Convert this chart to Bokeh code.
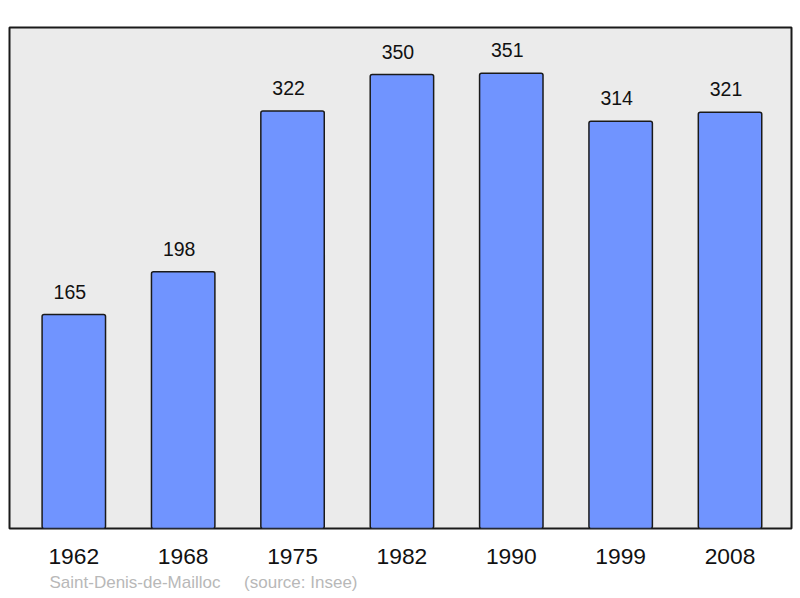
from bokeh.plotting import figure
from bokeh.models import ColumnDataSource, Range1d, FixedTicker, Title
from bokeh.core.properties import value
from bokeh.embed import file_html
from bokeh.resources import INLINE

years = ["1962", "1968", "1975", "1982", "1990", "1999", "2008"]
population = [165, 198, 322, 350, 351, 314, 321]
place = "Saint-Denis-de-Mailloc"
source_note = "(source: Insee)"

idx = list(range(len(years)))
src = ColumnDataSource(dict(x=idx, top=population, lbl=[str(v) for v in population]))

FONT = "Liberation Sans"

p = figure(width=800, height=598, output_backend="svg", toolbar_location=None,
           x_range=Range1d(-0.588, 6.562), y_range=Range1d(0, 386.3),
           y_axis_location=None, min_border_left=9, min_border_right=9,
           min_border_top=27, min_border_bottom=70)
p.background_fill_color = "#ebebeb"
p.border_fill_color = "white"
p.outline_line_color = "#1a1a1a"
p.outline_line_width = 2
p.xgrid.visible = False
p.ygrid.visible = False

p.vbar(x="x", top="top", bottom=0, width=0.58, source=src,
       fill_color="#7094ff", line_color="#1a1a1a", line_width=1.5,
       border_radius=2)

p.text(x="x", y="top", text="lbl", source=src, text_align="center",
       text_baseline="alphabetic", x_offset=-4, y_offset=-23,
       text_font=value(FONT), text_font_size="19.5px", text_color="#111111")

ax = p.xaxis[0]
ax.ticker = FixedTicker(ticks=idx)
ax.major_label_overrides = {i: y for i, y in zip(idx, years)}
ax.axis_line_color = None
ax.major_tick_line_color = None
ax.minor_tick_line_color = None
ax.major_tick_out = 0
ax.major_label_standoff = 20
ax.major_label_text_font = FONT
ax.major_label_text_font_size = "22.8px"
ax.major_label_text_color = "#111111"

footer = place + "\u00a0" * 5 + source_note
p.add_layout(Title(text=footer, align="left", offset=40, standoff=8,
                   text_font=FONT, text_font_size="17px", text_font_style="normal",
                   text_color="#b8b8b8"), "below")

open("out.html", "w").write(file_html(p, INLINE))
